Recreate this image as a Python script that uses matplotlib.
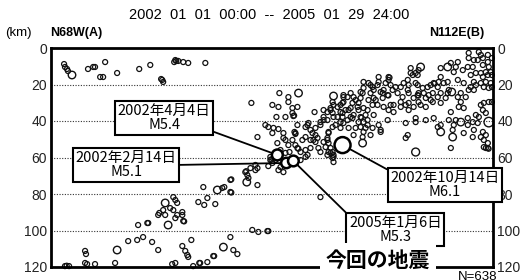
import matplotlib
matplotlib.use("Agg")
import matplotlib.pyplot as plt
import numpy as np

plt.rcParams['font.family'] = ['Liberation Sans', 'Noto Sans CJK JP', 'DejaVu Sans']

# ---------------- data (distance along profile A-B [km], depth [km]) ----------------
# shallow events, western part
west_dist = [7.1, 7.6, 8.7, 9.2, 20.1, 22.9, 23.9, 29.4, 26.7, 28.3, 35.9, 47.9,
             53.9, 59.8, 60.9, 60.4, 67.5, 68.0, 66.9, 69.1, 71.8, 74.5, 83.8]
west_depth = [8.8, 10.4, 11.5, 12.6, 11.5, 10.4, 10.4, 7.7, 15.9, 15.9, 13.7, 11.5,
              9.3, 17.0, 18.6, 17.5, 6.6, 7.1, 7.7, 7.1, 7.7, 8.2, 8.2]

# deep events, western part (slab)
deep_dist = [7.6, 9.8, 8.5, 18.5, 19.0, 18.5, 19.6, 23.9, 34.8, 41.9,
             46.8, 47.3, 50.0, 52.8, 52.3, 54.9, 58.2, 58.2, 58.8, 60.9,
             62.0, 64.7, 66.4, 67.5, 68.5, 66.4, 67.5, 68.5, 71.3, 71.3,
             71.8, 72.3, 65.8, 67.5, 71.3, 72.9, 74.0, 74.5, 76.2, 77.2,
             80.5, 81.0, 84.9, 88.1, 88.6, 97.4, 99.0, 101.2, 80.0, 82.7,
             83.2, 84.9, 89.2, 93.0, 94.1, 97.4, 97.9, 97.4, 97.9, 112.1,
             105.5, 106.0, 106.6, 107.2, 111.0, 111.0, 112.1, 108.3, 109.3, 112.6,
             117.5, 118.0, 146.3]
deep_depth = [119.5, 119.5, 119.3, 111.2, 112.9, 117.8, 118.4, 118.4, 117.8, 105.8,
              105.2, 97.0, 103.6, 95.9, 95.9, 106.3, 110.7, 91.5, 90.4, 88.8,
              91.5, 87.7, 81.7, 83.3, 84.9, 88.8, 93.2, 91.5, 89.9, 91.5,
              94.8, 95.0, 118.4, 117.8, 108.5, 111.2, 113.4, 114.5, 105.2, 119.5,
              117.8, 117.8, 117.3, 114.0, 114.0, 103.6, 110.7, 112.9, 84.4, 76.2,
              86.0, 82.2, 85.5, 76.7, 76.2, 72.3, 72.0, 78.9, 79.2, 75.1,
              68.0, 67.5, 69.6, 71.2, 66.9, 64.1, 65.8, 65.8, 99.7, 100.8,
              100.3, 100.3, 81.7]

# events around the main shocks
core_dist = [119.1, 119.6, 120.2, 118.0, 124.6, 123.5, 126.2, 116.4, 118.0, 120.8,
             123.5, 120.2, 132.2, 132.7, 132.7, 112.1, 126.2, 127.3, 133.8, 138.2,
             140.9, 139.3, 143.6, 146.3, 142.0, 144.7, 136.5, 131.1, 150.1, 150.7,
             151.8, 146.3, 152.9, 153.4, 138.2, 139.3, 135.5, 133.8, 134.3, 132.7,
             128.9, 124.6, 122.9, 140.9, 145.2, 151.8, 152.9, 150.1, 153.4, 150.1,
             138.2, 135.5, 148.0, 150.7, 143.6, 140.9, 138.2, 127.3, 129.5, 119.1,
             121.9, 126.2]
core_depth = [61.4, 61.0, 63.0, 64.7, 65.2, 66.9, 68.0, 42.2, 43.3, 43.8,
              44.4, 46.6, 46.0, 46.6, 47.1, 48.8, 46.6, 50.4, 42.2, 43.3,
              44.9, 42.2, 43.8, 42.2, 46.6, 49.3, 50.4, 50.4, 49.3, 52.1,
              54.8, 57.0, 57.0, 59.7, 55.9, 58.6, 57.0, 54.8, 55.2, 53.2,
              53.2, 55.9, 52.1, 54.8, 54.8, 57.5, 60.3, 50.4, 62.5, 58.6,
              59.7, 61.4, 51.5, 46.6, 51.5, 50.4, 48.8, 57.5, 57.0, 59.7,
              61.4, 49.3]

# middle part
mid_dist = [108.8, 124.0, 128.9, 128.9, 120.2, 123.5, 131.1, 133.8, 131.1, 131.6,
            132.0, 122.4, 127.3, 143.1, 148.0, 151.8, 158.8, 158.3, 150.1, 152.9,
            155.6, 158.3, 161.6, 148.0]
mid_depth = [30.1, 24.7, 26.9, 29.6, 31.2, 32.3, 32.9, 32.3, 35.6, 37.3,
             37.0, 37.8, 37.8, 35.1, 34.0, 32.9, 26.9, 30.1, 35.1, 35.6,
             37.8, 35.6, 34.0, 39.5]

# eastern part
east_dist = [139.8, 143.6, 142.5, 146.3, 148.0, 150.1, 153.4, 151.8, 153.4, 155.6,
             157.2, 158.3, 161.0, 163.7, 167.0, 168.1, 165.4, 161.6, 157.2, 154.5,
             158.8, 152.9, 157.2, 157.2, 168.1, 168.6, 164.3, 167.0, 170.8, 171.9,
             169.7, 169.2, 164.3, 152.9, 150.7, 149.1, 150.7, 153.4, 158.8, 161.0,
             162.7, 164.3, 165.4, 168.1, 169.2, 169.7, 172.4, 177.9, 183.3, 183.8,
             183.3, 181.7, 177.3, 174.6, 173.5, 176.3, 180.6, 163.7, 166.5, 162.7,
             159.9, 171.9, 175.2, 177.3, 180.6, 183.3, 186.0, 184.4, 189.9, 171.9,
             177.9, 182.8, 179.0, 174.6, 184.4, 185.5, 187.1, 189.9, 188.2, 190.9,
             191.5, 194.2, 193.7, 194.2, 196.9, 200.7, 203.5, 207.3, 211.6, 196.9,
             199.6, 199.6, 203.5, 207.3, 210.0, 211.6, 204.5, 206.2, 207.8, 208.3,
             210.5, 213.2, 215.4, 216.0, 215.4, 222.5, 220.9, 225.2, 220.9, 224.1,
             227.9, 230.7, 235.0, 237.7, 239.4, 229.6, 233.4, 236.1, 238.8, 222.5,
             224.1, 235.0, 237.7, 239.4, 234.5, 236.1, 230.7, 226.3, 229.0, 234.5,
             236.1, 233.4, 237.2, 235.0, 236.1, 232.3, 218.7, 218.1, 211.6, 216.0,
             219.8, 207.8, 203.5, 198.0, 198.0, 193.7, 192.6, 217.1, 195.3, 195.3,
             198.0, 199.6, 198.0, 193.7, 226.8, 232.3, 233.4, 234.5, 237.2, 239.4,
             229.6, 226.8, 226.3, 229.0, 234.5, 237.7, 238.8, 236.1, 233.4, 230.7,
             227.9, 234.5, 237.2, 239.4, 217.1, 219.8, 223.6, 211.6, 218.7, 237.2,
             231.7, 220.9, 196.4, 199.1, 211.6, 210.0, 199.1, 201.8, 177.9, 173.5,
             169.7, 175.2, 179.0, 182.8, 183.2, 194.2, 199.1, 199.5, 202.4, 205.1,
             214.3, 206.2, 221.4, 217.1, 226.8, 229.6, 233.4, 192.6, 169.7, 158.8,
             167.0, 169.7, 162.7, 174.6, 186.0, 189.9, 192.6, 194.2, 172.4, 175.2,
             180.1, 180.1, 168.1, 173.5, 170.8, 179.0, 210.0, 224.1, 229.0, 229.6,
             235.0, 237.2, 237.6, 231.7, 226.3]
east_depth = [41.1, 47.7, 50.4, 40.6, 37.8, 39.5, 37.8, 34.0, 31.2, 32.3,
              35.1, 37.8, 39.5, 38.4, 40.6, 43.3, 43.8, 43.8, 43.8, 42.2,
              41.1, 29.6, 31.2, 40.6, 37.8, 38.2, 36.7, 34.0, 36.7, 42.2,
              46.0, 48.8, 47.7, 43.3, 46.0, 54.3, 57.0, 58.6, 29.6, 26.9,
              24.7, 26.9, 28.5, 27.4, 24.7, 21.9, 19.2, 15.9, 15.9, 16.2,
              17.5, 19.2, 20.3, 21.4, 24.7, 28.5, 23.0, 30.1, 32.3, 32.9,
              34.0, 34.0, 36.7, 31.2, 32.3, 34.0, 35.1, 31.2, 32.3, 39.5,
              42.2, 39.5, 44.9, 43.8, 20.3, 23.0, 21.4, 21.4, 24.7, 26.9,
              19.2, 20.3, 23.0, 30.1, 32.3, 31.2, 32.3, 29.6, 30.1, 27.4,
              29.6, 24.7, 27.4, 24.7, 26.9, 24.7, 21.4, 20.3, 19.2, 19.5,
              18.6, 19.2, 18.6, 23.0, 24.7, 24.7, 26.9, 26.9, 17.5, 19.2,
              21.4, 20.3, 21.4, 21.9, 21.4, 18.6, 19.2, 18.6, 19.2, 29.6,
              32.9, 30.1, 29.6, 29.6, 34.0, 35.6, 36.7, 38.4, 40.6, 46.0,
              47.7, 48.8, 52.1, 54.3, 54.8, 37.8, 42.2, 44.9, 42.2, 39.5,
              39.5, 38.4, 39.5, 38.4, 40.6, 47.7, 49.3, 54.8, 11.0, 13.7,
              13.7, 12.1, 19.2, 17.5, 2.7, 2.2, 3.8, 5.5, 7.7, 5.5,
              6.6, 5.5, 10.4, 10.4, 9.3, 10.4, 13.2, 13.2, 13.7, 13.7,
              14.8, 15.9, 14.8, 14.8, 8.2, 10.4, 12.1, 11.0, 13.2, 3.8,
              6.6, 7.7, 14.8, 14.8, 15.9, 21.4, 20.3, 21.9, 18.6, 20.3,
              18.6, 23.0, 24.1, 25.8, 26.0, 24.7, 25.8, 26.1, 24.7, 25.8,
              27.4, 28.5, 32.3, 35.1, 23.0, 23.0, 31.2, 41.1, 40.6, 25.8,
              30.1, 32.9, 37.8, 31.2, 31.2, 29.6, 31.2, 34.0, 28.5, 27.4,
              27.4, 24.7, 24.1, 47.7, 43.8, 46.0, 43.3, 46.6, 48.8, 44.9,
              50.4, 54.8, 55.2, 41.1, 42.2]

small_mag = 2.0

# larger events
med_dist = [11.4, 35.9, 62.0, 63.6, 93.6, 90.3, 106.3, 134.4, 153.4, 217.6,
            222.5, 237.7, 211.6, 198.0, 200.7, 215.4, 169.2, 218.1]
med_depth = [14.8, 110.7, 84.9, 97.0, 109.1, 77.8, 73.5, 24.7, 26.3, 24.1,
             40.6, 40.6, 46.0, 57.0, 10.4, 10.4, 52.1, 48.8]
med_mag = [3.0, 3.0, 3.0, 3.0, 3.0, 3.0, 3.0, 3.0, 3.0, 3.0,
           3.0, 4.5, 3.0, 3.3, 3.0, 3.0, 3.0, 3.0]

# main shocks
main_labels = ["2002年2月14日\nM5.1", "2002年4月4日\nM5.4",
               "2002年10月14日\nM6.1", "2005年1月6日\nM5.3"]
main_dist = [127.8, 122.9, 158.3, 131.6]
main_depth = [63.0, 58.6, 53.2, 61.9]
main_mag = [5.1, 5.4, 6.1, 5.3]

depth_ticks = [0, 20, 40, 60, 80, 100, 120]
n_events = 638
title = "2002  01  01  00:00  --  2005  01  29  24:00"

# ---------------- plotting ----------------
def diam_px(m):
    return np.interp(m, [2, 3, 4.5, 5.5, 6.1], [5, 7.5, 9.5, 11, 16])

def msize(m):
    return (diam_px(np.asarray(m, float)) * 0.72) ** 2

fig = plt.figure(figsize=(5.28, 2.8), dpi=100)
ax = fig.add_axes([51 / 528, 1 - 267 / 280, 442 / 528, 219 / 280])
ax.set_xlim(0, 240)
ax.set_ylim(120, 0)

for y in depth_ticks[1:-1]:
    ax.axhline(y, color='#333333', lw=0.8, ls=(0, (1, 1.4)), zorder=1)

sd = np.concatenate([west_dist, deep_dist, core_dist, mid_dist, east_dist])
sz = np.concatenate([west_depth, deep_depth, core_depth, mid_depth, east_depth])
ax.scatter(sd, sz, s=msize(np.full(len(sd), small_mag)), facecolors='none',
           edgecolors='#111111', linewidths=0.9, zorder=3, clip_on=False)
ax.scatter(med_dist, med_depth, s=msize(med_mag), facecolors='none',
           edgecolors='#111111', linewidths=1.0, zorder=3, clip_on=False)
ax.scatter(main_dist, main_depth, s=msize(main_mag), facecolors='white',
           edgecolors='black', linewidths=1.8, zorder=4)

ax.set_xticks([])
ax.set_yticks(depth_ticks)
ax.set_yticklabels([str(t) for t in depth_ticks])
ax.tick_params(axis='y', length=0, pad=3, labelsize=10, left=True, right=True,
               labelleft=True, labelright=True, labelcolor='#222222')
for sp in ax.spines.values():
    sp.set_linewidth(2.0)
    sp.set_zorder(5)

box_pos = [(0.170, 0.466), (0.256, 0.680), (0.891, 0.374), (0.779, 0.171)]
rel = [(1, 0.5), (1, 0.05), (0, 1), (0, 1)]
for lab, x, y, m, bp, rp in zip(main_labels, main_dist, main_depth, main_mag, box_pos, rel):
    ax.annotate(lab, xy=(x, y), xytext=bp, textcoords='axes fraction',
                ha='center', va='center', fontsize=10.5, linespacing=1.0,
                family=['Noto Sans CJK JP', 'DejaVu Sans'], multialignment='center',
                bbox=dict(boxstyle='square,pad=0.18', fc='white', ec='black', lw=1.5),
                arrowprops=dict(arrowstyle='-', color='black', lw=1.3, relpos=rp,
                                shrinkA=0, shrinkB=diam_px(m) * 0.36 + 0.5),
                annotation_clip=False, zorder=6)

fig.text(0.509, 1 - 15 / 280, title, ha='center', va='center', fontsize=10.5)
fig.text(5 / 528, 1 - 33 / 280, "(km)", ha='left', va='center', fontsize=9.5)
fig.text(50 / 528, 1 - 33 / 280, "N68W(A)", ha='left', va='center', fontsize=9,
         fontweight='bold')
fig.text(484 / 528, 1 - 33 / 280, "N112E(B)", ha='right', va='center', fontsize=9,
         fontweight='bold')
fig.text(378 / 528, 1 - 260 / 280, "今回の地震", ha='center', va='center',
         fontsize=15, fontweight='bold', family=['Noto Sans CJK JP', 'DejaVu Sans'],
         bbox=dict(boxstyle='square,pad=0.3', fc='white', ec='none'), zorder=10)
fig.text(497 / 528, 1 - 271 / 280, f"N={n_events}", ha='right', va='top', fontsize=9.5)

fig.savefig("out.png", dpi=100)
